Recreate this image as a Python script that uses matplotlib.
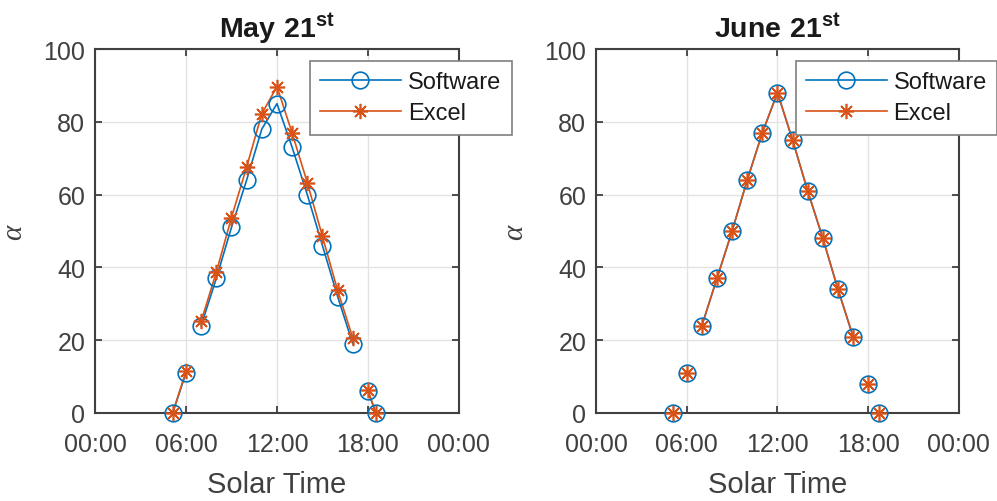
import matplotlib
matplotlib.use("Agg")
from matplotlib import pyplot as plt
from matplotlib.lines import Line2D

plt.rcParams['font.family'] = ['Liberation Sans', 'DejaVu Sans']
plt.rcParams['mathtext.fontset'] = 'custom'
plt.rcParams['mathtext.rm'] = 'Liberation Sans'
plt.rcParams['mathtext.bf'] = 'Liberation Sans:bold'

# solar time in decimal hours, altitude angle in degrees
may_time = [5.12, 6, 7, 8, 9, 10, 11, 12, 13, 14, 15, 16, 17, 18, 18.52]
may_software = [0, 11, 24, 37, 51, 64, 78, 85, 73, 60, 46, 32, 19, 6, 0]
may_excel = [0, 11.5, 25.2, 38.7, 53.7, 67.6, 82.2, 89.7, 76.9, 63.3, 48.5, 33.7, 20.6, 6.2, 0]

june_time = [5.07, 6, 7, 8, 9, 10, 11, 12, 13, 14, 15, 16, 17, 18, 18.71]
june_software = [0, 11, 24, 37, 50, 64, 77, 88, 75, 61, 48, 34, 21, 8, 0]
june_excel = [0, 11, 24, 37, 50, 64, 77, 88, 75, 61, 48, 34, 21, 8, 0]

# index ranges joined by a line in each panel
may_segments = [(0, 2), (2, 13), (13, 15)]
june_segments = [(2, 13)]

xticks = [0, 6, 12, 18, 24]
xticklabels = ['00:00', '06:00', '12:00', '18:00', '00:00']

blue = (0, 0.447, 0.741)
orange = (0.85, 0.325, 0.098)
dark = '#404040'
star = (8, 2, 0)


def panel(ax, t, sw, ex, segments, title, leg_x):
    for y, col, mk, ms in [(sw, blue, 'o', 12), (ex, orange, star, 11)]:
        for a, b in segments:
            ax.plot(t[a:b], y[a:b], color=col, lw=1.2, zorder=3)
        ax.plot(t, y, ls='none', marker=mk, ms=ms, mfc='none', mec=col,
                mew=1.2, clip_on=False, zorder=4)
    ax.set_xlim(0, 24)
    ax.set_ylim(0, 100)
    ax.set_xticks(xticks)
    ax.set_xticklabels(xticklabels)
    ax.set_yticks(range(0, 101, 20))
    ax.grid(True, color='#e3e3e3', lw=1)
    ax.set_axisbelow(True)
    ax.tick_params(direction='in', top=True, right=True, length=5, width=1.3,
                   colors=dark, labelsize=18)
    ax.tick_params(axis='x', pad=14)
    ax.tick_params(axis='y', pad=7)
    for s in ax.spines.values():
        s.set_color(dark)
        s.set_linewidth(1.5)
    ax.set_title(title, fontsize=20.5, pad=9, color='#1a1a1a')
    ax.set_xlabel('Solar Time', fontsize=21, color=dark, labelpad=10)
    ax.set_ylabel('α', fontsize=21, color=dark, family='Liberation Serif',
                  style='italic', labelpad=12)
    handles = [Line2D([], [], color=blue, lw=1.2, marker='o', ms=12, mfc='none', mew=1.2),
               Line2D([], [], color=orange, lw=1.2, marker=star, ms=11, mfc='none', mew=1.2)]
    leg = ax.legend(handles, ['Software', 'Excel'], loc='upper left',
                    bbox_to_anchor=(leg_x, 0.968), fontsize=17, fancybox=False,
                    framealpha=1, edgecolor='#7f7f7f', handlelength=3.4,
                    handletextpad=0.3, labelspacing=0.38, borderpad=0.45,
                    borderaxespad=0)
    leg.get_frame().set_linewidth(1.2)
    for txt in leg.get_texts():
        txt.set_color('#1a1a1a')


fig = plt.figure(figsize=(9.97, 5.02), dpi=100)
ax1 = fig.add_axes([0.0953, 0.1753, 0.365, 0.725])
ax2 = fig.add_axes([0.5978, 0.1753, 0.364, 0.725])

panel(ax1, may_time, may_software, may_excel, may_segments,
      r'$\mathbf{May\ 21^{st}}$', 0.59)
panel(ax2, june_time, june_software, june_excel, june_segments,
      r'$\mathbf{June\ 21^{st}}$', 0.55)

fig.savefig('out.png', dpi=100)
